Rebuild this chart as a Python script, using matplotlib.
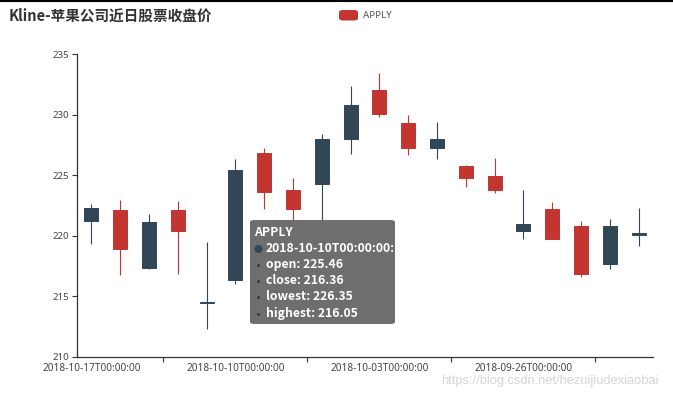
import matplotlib
matplotlib.use("Agg")
import matplotlib.pyplot as plt
from matplotlib.patches import FancyBboxPatch, Rectangle, Ellipse
from matplotlib.lines import Line2D

plt.rcParams['font.family'] = ['Noto Sans CJK SC', 'DejaVu Sans']

# ---- data ----
dates = ["2018-10-17T00:00:00", "2018-10-16T00:00:00", "2018-10-15T00:00:00",
         "2018-10-12T00:00:00", "2018-10-11T00:00:00", "2018-10-10T00:00:00",
         "2018-10-09T00:00:00", "2018-10-08T00:00:00", "2018-10-05T00:00:00",
         "2018-10-04T00:00:00", "2018-10-03T00:00:00", "2018-10-02T00:00:00",
         "2018-10-01T00:00:00", "2018-09-28T00:00:00", "2018-09-27T00:00:00",
         "2018-09-26T00:00:00", "2018-09-25T00:00:00", "2018-09-24T00:00:00",
         "2018-09-21T00:00:00", "2018-09-20T00:00:00"]
opens  = [222.30, 218.93, 221.16, 220.42, 214.52, 225.46, 223.64, 222.21, 227.96, 230.78,
          230.05, 227.25, 227.95, 224.79, 223.82, 221.00, 219.75, 216.82, 220.78, 220.24]
closes = [221.19, 222.15, 217.36, 222.11, 214.45, 216.36, 226.87, 223.77, 224.29, 227.99,
          232.07, 229.28, 227.26, 225.74, 224.95, 220.42, 222.19, 220.79, 217.66, 220.03]
highs  = [222.64, 222.99, 221.83, 222.88, 219.50, 226.35, 227.27, 224.80, 228.41, 232.35,
          233.47, 230.00, 229.42, 225.84, 226.44, 223.75, 222.82, 221.26, 221.36, 222.28]
lows   = [219.34, 216.76, 217.27, 216.84, 212.32, 216.05, 222.25, 220.20, 220.58, 226.73,
          229.78, 226.63, 226.35, 224.02, 223.54, 219.76, 219.70, 216.63, 217.29, 219.15]
series_name = "APPLY"
title = "Kline-苹果公司近日股票收盘价"
yticks = [210, 215, 220, 225, 230, 235]
label_idx = [0, 5, 10, 15]
tooltip_idx = 5
tooltip_keys = ["open", "close", "lowest", "highest"]
watermark = "https://blog.csdn.net/hezuijiudexiaobai"

UP = "#c23531"
DOWN = "#314656"

W, H = 673, 399
fig = plt.figure(figsize=(W / 100, H / 100), dpi=100)
def fx(x): return x / W
def fy(y): return 1 - y / H

ax = fig.add_axes([fx(77), fy(357), (653 - 77) / W, (357 - 54) / H])
n = len(dates)
xs = list(range(n))
for i in xs:
    o, c, h, l = opens[i], closes[i], highs[i], lows[i]
    col = UP if c > o else DOWN
    ax.vlines(i, l, h, color=col, lw=0.8, zorder=2)
    bottom = min(o, c)
    height = max(abs(c - o), 0.08)
    ax.bar(i, height, bottom=bottom, width=0.49, color=col, edgecolor=col,
           linewidth=0.7, zorder=3)

ax.set_xlim(-0.5, n - 0.5)
ax.set_ylim(210, 235)
for s in ["top", "right"]:
    ax.spines[s].set_visible(False)
for s in ["left", "bottom"]:
    ax.spines[s].set_color("#333333")
    ax.spines[s].set_linewidth(0.9)

ax.set_yticks(yticks)
ax.set_yticklabels([str(v) for v in yticks], fontsize=7.0, color="#444444",
                   family=["Noto Sans", "DejaVu Sans"])
ax.tick_params(axis="y", length=3.6, width=0.8, color="#333333", pad=2)

ax.set_xticks([k + 2.5 for k in label_idx])
ax.set_xticklabels([])
ax.tick_params(axis="x", which="major", length=3.6, width=0.8, color="#333333")
ax.set_xticks(label_idx, minor=True)
ax.set_xticklabels([dates[k] for k in label_idx], minor=True, fontsize=7.2,
                   color="#444444", family=["Noto Sans", "DejaVu Sans"])
ax.tick_params(axis="x", which="minor", length=0, pad=4)

# top rule
fig.add_artist(Line2D([0, 1], [fy(0.8), fy(0.8)], color="black", lw=1.5))

# title
fig.text(fx(9), fy(16), title, fontsize=10.5, fontweight="bold", color="#333333",
         va="center", ha="left")

# legend
fig.add_artist(FancyBboxPatch((fx(339), fy(20.5)), fx(19), 10.5 / H,
                              boxstyle="round,pad=0,rounding_size=0.006",
                              transform=fig.transFigure, facecolor=UP, edgecolor="none"))
fig.text(fx(363), fy(15.5), series_name, fontsize=7, color="#555555", va="center",
         ha="left", family=["Noto Sans", "DejaVu Sans"])

# tooltip
fig.add_artist(FancyBboxPatch((fx(250), fy(324)), (395 - 250) / W, (324 - 220) / H,
                              boxstyle="round,pad=0,rounding_size=0.006",
                              transform=fig.transFigure, facecolor="#6e6e6e",
                              edgecolor="none", zorder=10))
tt_font = dict(fontsize=8.8, fontweight="bold", color="white", va="center", ha="left",
               family=["Noto Sans CJK SC", "DejaVu Sans"], zorder=11)
fig.text(fx(254), fy(232), series_name, **tt_font)
fig.text(fx(266), fy(248.5), dates[tooltip_idx] + ":", **tt_font)
fig.add_artist(Ellipse((fx(258.5), fy(249)), 8 / W, 8 / H, transform=fig.transFigure,
                       facecolor=DOWN, edgecolor="none", zorder=11))
vals = [opens[tooltip_idx], closes[tooltip_idx], highs[tooltip_idx], lows[tooltip_idx]]
for j, (k, v) in enumerate(zip(tooltip_keys, vals)):
    yy = 264.5 + j * 16.2
    fig.add_artist(Rectangle((fx(257), fy(yy + 2.5)), 3 / W, 3 / H, transform=fig.transFigure,
                             facecolor=DOWN, edgecolor="none", zorder=11))
    fig.text(fx(266), fy(yy), f"{k}: {v:.2f}", **tt_font)

# watermark: fit to the width it spans in the reference
wm = fig.text(fx(441), fy(381), watermark, fontsize=10, color="#d6d6d6", va="center",
              ha="left", family=["Liberation Sans", "DejaVu Sans"])
renderer = fig.canvas.get_renderer()
w_now = wm.get_window_extent(renderer).width
wm.set_fontsize(10 * 218 / w_now)

fig.savefig("out.png", dpi=100)
